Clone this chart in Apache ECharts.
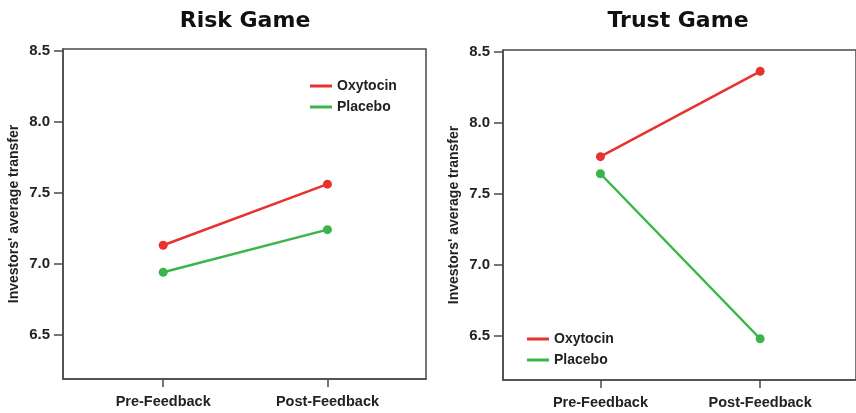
<!DOCTYPE html>
<html>
<head>
<meta charset="utf-8">
<script src="https://cdn.jsdelivr.net/npm/echarts@6/dist/echarts.min.js"></script>
<style>
  html, body { margin: 0; padding: 0; background: #fff; }
  #main { width: 856px; height: 413px; }
</style>
</head>
<body>
<div id="main"></div>
<script>
// data
const phases = ['Pre-Feedback', 'Post-Feedback'];
const yTicks = [6.5, 7.0, 7.5, 8.0, 8.5];
const riskOxytocin = [7.13, 7.56];
const riskPlacebo = [6.94, 7.24];
const trustOxytocin = [7.76, 8.36];
const trustPlacebo = [7.64, 6.48];

const RED = '#e8322e';
const GREEN = '#3bb54a';
const FONT = '"Liberation Sans", Arial, sans-serif';
const AXIS = '#4a4a4a';

const chart = echarts.init(document.getElementById('main'));

function xAxisFor(gridIndex) {
  return {
    type: 'value', gridIndex: gridIndex,
    min: -0.61, max: 1.6,
    splitLine: { show: false },
    axisLine: { show: true, onZero: false, lineStyle: { color: AXIS, width: 1.5 } },
    axisTick: { show: true, customValues: [0, 1], length: 8, lineStyle: { color: AXIS, width: 1.5 } },
    axisLabel: {
      customValues: [0, 1],
      formatter: v => phases[Math.round(v)],
      color: '#222', fontFamily: FONT, fontWeight: 'bold', fontSize: 14.5, margin: 15
    }
  };
}

function yAxisFor(gridIndex) {
  return {
    type: 'value', gridIndex: gridIndex,
    min: 6.19, max: 8.51,
    splitLine: { show: false },
    axisLine: { show: true, onZero: false, lineStyle: { color: AXIS, width: 1.5 } },
    axisTick: { show: true, customValues: yTicks, length: 9, lineStyle: { color: AXIS, width: 1.5 } },
    axisLabel: {
      customValues: yTicks,
      formatter: v => v.toFixed(1),
      color: '#222', fontFamily: FONT, fontWeight: 'bold', fontSize: 15, margin: 13
    },
    name: "Investors' average transfer",
    nameLocation: 'middle',
    nameGap: 42,
    nameTextStyle: { color: '#222', fontFamily: FONT, fontWeight: 'bold', fontSize: 14 }
  };
}

function lineSeries(name, data, color, idx) {
  return {
    name: name, type: 'line',
    xAxisIndex: idx, yAxisIndex: idx,
    data: data.map((v, i) => [i, v]),
    symbol: 'circle', symbolSize: 9,
    lineStyle: { color: color, width: 2.5 },
    itemStyle: { color: color },
    animation: false
  };
}

function legendFor(left, top) {
  return {
    left: left, top: top, orient: 'vertical', itemGap: 7,
    icon: 'rect', itemWidth: 22, itemHeight: 3,
    textStyle: { color: '#222', fontFamily: FONT, fontWeight: 'bold', fontSize: 14 },
    data: ['Oxytocin', 'Placebo'],
    selectedMode: false
  };
}

const titleStyle = { fontFamily: '"DejaVu Sans", sans-serif', fontWeight: 'bold', fontSize: 22, color: '#111' };

chart.setOption({
  backgroundColor: '#fff',
  title: [
    { text: 'Risk Game', left: 240, top: 5, textAlign: 'center', textStyle: titleStyle },
    { text: 'Trust Game', left: 673, top: 5, textAlign: 'center', textStyle: titleStyle }
  ],
  grid: [
    { left: 63, top: 49, width: 363, height: 330, show: true, borderColor: AXIS, borderWidth: 1.5, backgroundColor: 'transparent' },
    { left: 503, top: 50, width: 362, height: 330, show: true, borderColor: AXIS, borderWidth: 1.5, backgroundColor: 'transparent' }
  ],
  legend: [
    legendFor(305, 74),
    legendFor(522, 327)
  ],
  xAxis: [xAxisFor(0), xAxisFor(1)],
  yAxis: [yAxisFor(0), yAxisFor(1)],
  series: [
    lineSeries('Oxytocin', riskOxytocin, RED, 0),
    lineSeries('Placebo', riskPlacebo, GREEN, 0),
    lineSeries('Oxytocin', trustOxytocin, RED, 1),
    lineSeries('Placebo', trustPlacebo, GREEN, 1)
  ]
});
</script>
</body>
</html>
